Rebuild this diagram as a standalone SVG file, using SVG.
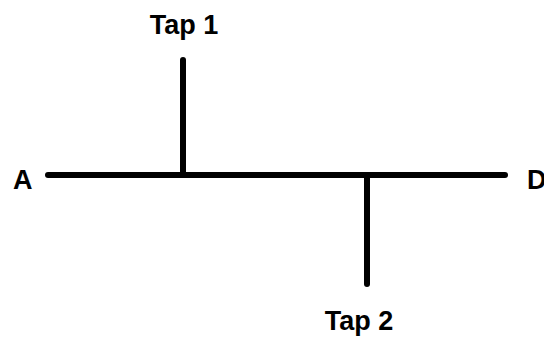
<svg xmlns="http://www.w3.org/2000/svg" width="544" height="342" viewBox="0 0 544 342">
  <style>
    .wire { stroke: #000; stroke-width: 6; stroke-linecap: round; fill: none; }
    .lbl { font-family: "Liberation Sans", Arial, sans-serif; font-weight: bold; font-size: 27px; fill: #000; }
  </style>
  <rect width="544" height="342" fill="#fff"/>
  <g id="connectors">
    <line class="wire" x1="48" y1="175" x2="505" y2="175"/>
    <line class="wire" x1="183" y1="60" x2="183" y2="175"/>
    <line class="wire" x1="367" y1="175" x2="367" y2="284"/>
  </g>
  <g id="node-a"><text class="lbl" x="13" y="189">A</text></g>
  <g id="node-d"><text class="lbl" x="527" y="189">D</text></g>
  <g id="node-tap1"><text class="lbl" x="184" y="34" text-anchor="middle">Tap 1</text></g>
  <g id="node-tap2"><text class="lbl" x="359" y="330" text-anchor="middle">Tap 2</text></g>
</svg>
